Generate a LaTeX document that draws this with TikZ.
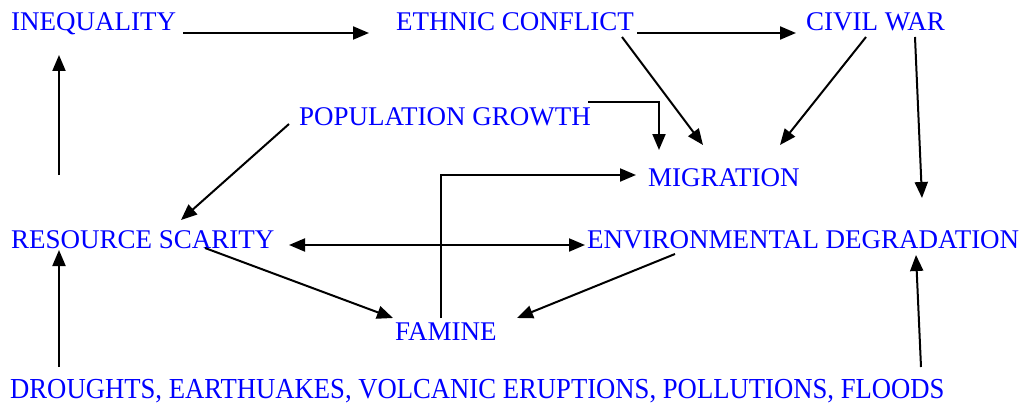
\documentclass[tikz,border=0pt]{standalone}
\usepackage{fontspec}
\setmainfont{Liberation Serif}
\usetikzlibrary{arrows.meta,calc}
\definecolor{txtblue}{RGB}{0,0,255}
\begin{document}
\begin{tikzpicture}[x=1pt,y=-1pt,
  lbl/.style={anchor=base west,inner sep=0pt,text=txtblue,font=\fontsize{27}{31}\selectfont},
  arr/.style={draw=black,line width=2pt,-{Triangle[length=16pt,width=13pt]}},
  darr/.style={draw=black,line width=2pt,{Triangle[length=16pt,width=13pt]}-{Triangle[length=16pt,width=13pt]}}]
\useasboundingbox (0,0) rectangle (1021,404);
\node[lbl] (ineq) at (11,31) {INEQUALITY};
\node[lbl] (ethnic) at (396,31) {ETHNIC CONFLICT};
\node[lbl] (civil) at (806,31) {CIVIL WAR};
\node[lbl] (pop) at (299,125) {POPULATION GROWTH};
\node[lbl] (mig) at (648,186) {MIGRATION};
\node[lbl] (res) at (11,248) {RESOURCE SCARITY};
\node[lbl] (env) at (587,248) {ENVIRONMENTAL DEGRADATION};
\node[lbl] (fam) at (395,340) {FAMINE};
\node[lbl,font=\fontsize{29}{33}\selectfont,xscale=0.92] (drought) at (10,398) {DROUGHTS, EARTHUAKES, VOLCANIC ERUPTIONS, POLLUTIONS, FLOODS};
% connectors
\draw[arr] ($(ineq.base west)+(172,2)$) -- ($(ethnic.base west)+(-27,2)$);
\draw[arr] ($(ethnic.base west)+(241,2)$) -- ($(civil.base west)+(-10,2)$);
\draw[arr] ($(ethnic.base west)+(226,6)$) -- ($(mig.base west)+(55,-41)$);
\draw[arr] ($(civil.base west)+(60,6)$) -- ($(mig.base west)+(132,-41)$);
\draw[arr] ($(civil.base west)+(109,6)$) -- ($(env.base west)+(335,-50)$);
\draw[arr] ($(pop.base west)+(289,-23)$) -| ($(mig.base west)+(11,-36)$);
\draw[arr] ($(fam.base west)+(46,-22)$) |- ($(mig.base west)+(-12,-11)$);
\draw[arr] ($(pop.base west)+(-10,-1)$) -- ($(res.base west)+(170,-28)$);
\draw[darr] ($(res.base west)+(278,-3)$) -- ($(env.base west)+(-2,-3)$);
\draw[arr] ($(res.base west)+(194,0)$) -- ($(fam.base west)+(-2,-22)$);
\draw[arr] ($(env.base west)+(88,6)$) -- ($(fam.base west)+(122,-22)$);
\draw[arr] ($(res.base west)+(48,-73)$) -- ($(ineq.base west)+(48,24)$);
\draw[arr] ($(drought.base west)+(49,-31)$) -- ($(res.base west)+(48,2)$);
\draw[arr] ($(drought.base west)+(911,-31)$) -- ($(env.base west)+(329,7)$);
\end{tikzpicture}
\end{document}
